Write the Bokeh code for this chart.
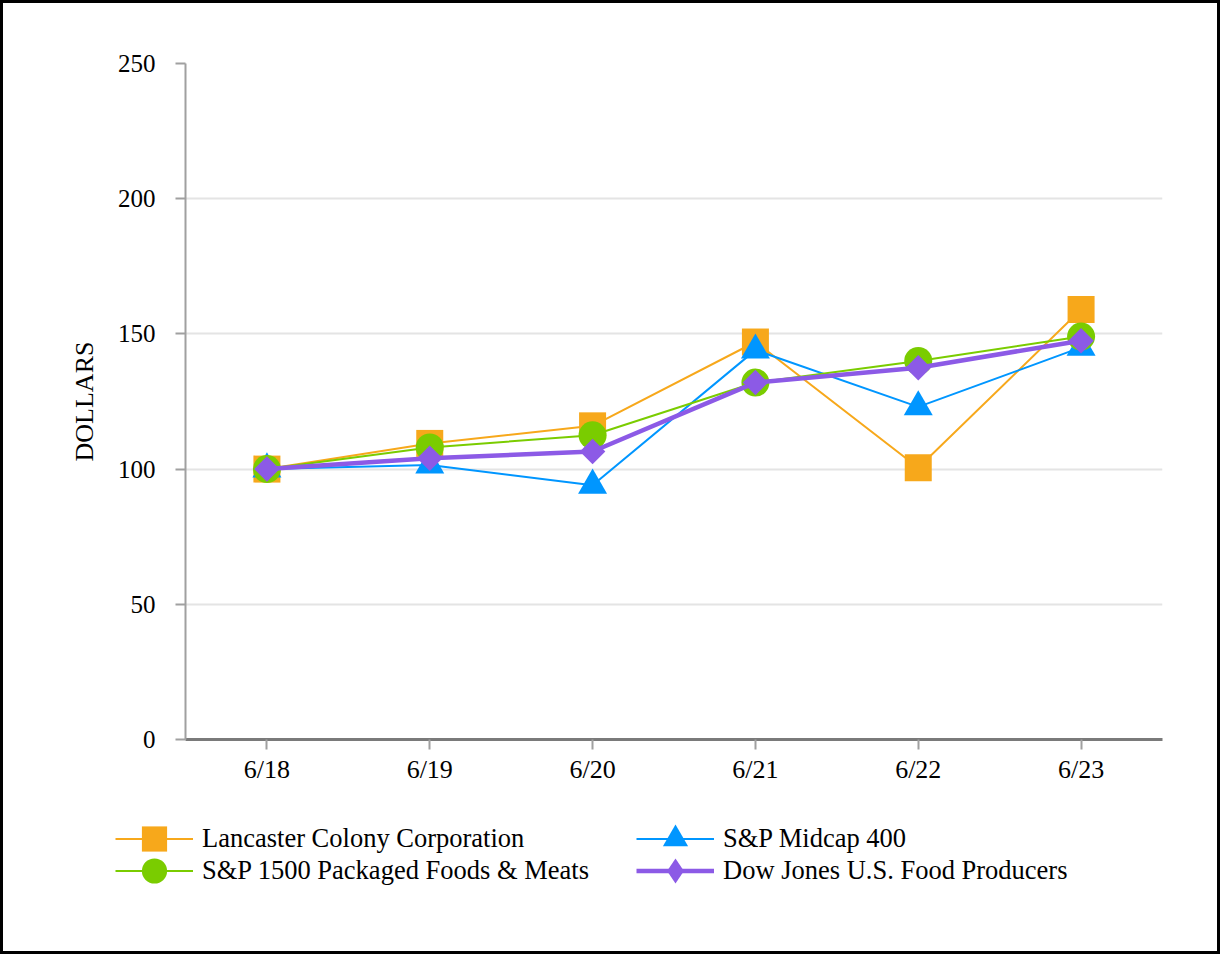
import math
from bokeh.plotting import figure
from bokeh.models import (ColumnDataSource, FactorRange, Range1d, FixedTicker,
                          Legend, LegendItem)
from bokeh.embed import file_html
from bokeh.resources import INLINE

# ---- data ----
periods = ["6/18", "6/19", "6/20", "6/21", "6/22", "6/23"]
lancaster = [100, 109.5, 116, 147, 100.5, 159]
midcap400 = [100, 101.5, 94, 144, 123, 145]
sp1500_foods = [100, 108, 112.5, 132, 140, 149]
dj_food = [100, 104, 106.5, 132, 137.5, 147.5]
y_ticks = [0, 50, 100, 150, 200, 250]

series_names = ["Lancaster Colony Corporation", "S&P Midcap 400",
                "S&P 1500 Packaged Foods & Meats", "Dow Jones U.S. Food Producers"]

SERIF = "Liberation Serif"
orange = "#F7A81B"
blue = "#0096FF"
green = "#7ACC00"
purple = "#8C5AE6"

W = 1220
H1 = 796
H2 = 158

src = ColumnDataSource(dict(x=periods, lan=lancaster, mid=midcap400,
                            sp=sp1500_foods, dj=dj_food))

# ---------------- chart ----------------
p = figure(width=W, height=H1, x_range=FactorRange(factors=periods),
           y_range=Range1d(0, 250), output_backend="svg", toolbar_location=None,
           min_border_left=182, min_border_top=60, min_border_right=61,
           min_border_bottom=60)
p.styles = {"border": "3px solid black", "border-bottom": "none"}
p.outline_line_color = None

p.xgrid.grid_line_color = None
p.ygrid.grid_line_color = "#e4e4e4"
p.ygrid.grid_line_width = 2
p.yaxis.ticker = FixedTicker(ticks=y_ticks)

p.yaxis.axis_line_color = "#a0a0a0"
p.yaxis.axis_line_width = 2
p.yaxis.major_tick_line_color = "#a0a0a0"
p.yaxis.major_tick_line_width = 2
p.yaxis.major_tick_out = 10
p.yaxis.major_tick_in = 0
p.yaxis.minor_tick_line_color = None
p.yaxis.major_label_standoff = 20
p.yaxis.major_label_text_font = SERIF
p.yaxis.major_label_text_font_size = "25px"
p.yaxis.major_label_text_color = "black"
p.yaxis.axis_label = "DOLLARS"
p.yaxis.axis_label_text_font = SERIF
p.yaxis.axis_label_text_font_size = "26px"
p.yaxis.axis_label_text_font_style = "normal"
p.yaxis.axis_label_text_color = "black"
p.yaxis.axis_label_standoff = 16

p.xaxis.axis_line_color = "#7a7a7a"
p.xaxis.axis_line_width = 3
p.xaxis.major_tick_line_color = "#a0a0a0"
p.xaxis.major_tick_line_width = 2
p.xaxis.major_tick_out = 10
p.xaxis.major_tick_in = 0
p.xaxis.minor_tick_line_color = None
p.xaxis.major_label_standoff = 5
p.xaxis.major_label_text_font = SERIF
p.xaxis.major_label_text_font_size = "26px"
p.xaxis.major_label_text_color = "black"

p.line("x", "lan", source=src, line_color=orange, line_width=2)
p.scatter("x", "lan", source=src, marker="square", size=27,
          fill_color=orange, line_color=None)
p.line("x", "mid", source=src, line_color=blue, line_width=2)
p.scatter("x", "mid", source=src, marker="triangle", size=29,
          fill_color=blue, line_color=None)
p.line("x", "sp", source=src, line_color=green, line_width=2)
p.scatter("x", "sp", source=src, marker="circle", size=28,
          fill_color=green, line_color=None)
p.line("x", "dj", source=src, line_color=purple, line_width=4.5)
p.scatter("x", "dj", source=src, marker="square", size=18, angle=math.pi / 4,
          fill_color=purple, line_color=None)

# ---------------- legend strip ----------------
# the same series are drawn here but fall outside this strip's y range,
# so only their legend symbols show
p2 = figure(width=W, height=H2, x_range=FactorRange(factors=periods),
            y_range=Range1d(-2, -1), output_backend="svg", toolbar_location=None,
            x_axis_location=None, y_axis_location=None,
            min_border=0, min_border_left=0, min_border_right=0,
            min_border_top=0, min_border_bottom=0)
p2.styles = {"border": "3px solid black", "border-top": "none"}
p2.outline_line_color = None
p2.grid.visible = False


def legend_glyphs(col, color, width, marker):
    ln = p2.line("x", col, source=src, line_color=color, line_width=width)
    mk = p2.scatter("x", col, source=src, marker=marker, size=26,
                    fill_color=color, line_color=None)
    return [ln, mk]


g_lan = legend_glyphs("lan", orange, 2, "square")
g_mid = legend_glyphs("mid", blue, 2, "triangle")
g_sp = legend_glyphs("sp", green, 2, "circle")
g_dj = legend_glyphs("dj", purple, 4.5, "diamond")

common = dict(orientation="horizontal", glyph_width=78, glyph_height=63,
              spacing=0, label_standoff=9, label_width=434, label_height=20,
              padding=0, margin=0, border_line_color=None,
              background_fill_alpha=0, label_text_font=SERIF,
              label_text_font_size="26.5px", label_text_color="black")

leg1 = Legend(items=[LegendItem(label=series_names[0], renderers=g_lan),
                     LegendItem(label=series_names[1], renderers=g_mid)],
              location=(112, 84), **common)
leg2 = Legend(items=[LegendItem(label=series_names[2], renderers=g_sp),
                     LegendItem(label=series_names[3], renderers=g_dj)],
              location=(112, 52), **common)
p2.add_layout(leg1, "center")
p2.add_layout(leg2, "center")

open("out.html", "w").write(file_html([p, p2], INLINE))
